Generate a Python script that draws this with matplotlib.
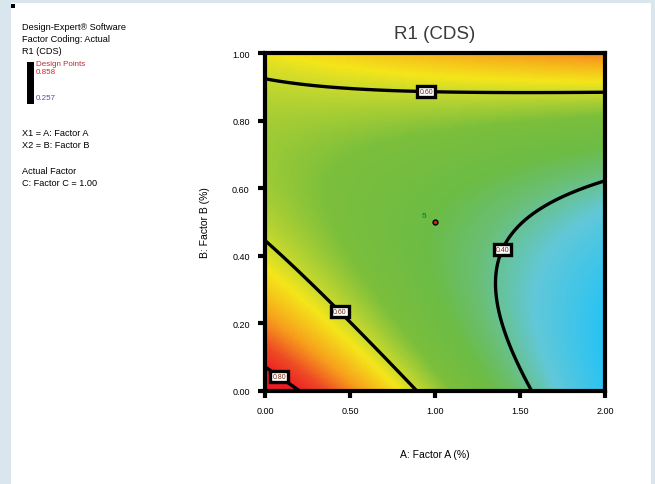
import numpy as np
import matplotlib.pyplot as plt
from matplotlib.colors import LinearSegmentedColormap
from matplotlib.patches import Rectangle

plt.rcParams['font.family'] = ['Liberation Sans', 'DejaVu Sans']

# factor ranges (actual units) and ticks
a_range = [0.0, 2.0]
b_range = [0.0, 1.0]
a_ticks = [0.0, 0.5, 1.0, 1.5, 2.0]
b_ticks = [0.0, 0.2, 0.4, 0.6, 0.8, 1.0]

# quadratic model in coded units: b0, A, B, AB, A^2, B^2
coef = [0.4656, -0.1246, 0.0536, 0.1694, -0.0047, 0.1568]
levels = [0.4, 0.6, 0.8]
r_min, r_max = 0.257, 0.858

# design point (center) and its count
center_pt = [1.0, 0.5]
center_n = '5'

# where the contour labels sit
label_pos = [(0.95, 0.92), (1.35, 0.43), (0.47, 0.25), (0.12, 0.07)]

A = np.linspace(a_range[0], a_range[1], 241)
B = np.linspace(b_range[0], b_range[1], 241)
AA, BB = np.meshgrid(A, B)
u = (AA - 1.0) / 1.0
v = (BB - 0.5) / 0.5
Z = (coef[0] + coef[1]*u + coef[2]*v + coef[3]*u*v
     + coef[4]*u**2 + coef[5]*v**2)

de_cmap = LinearSegmentedColormap.from_list('de', [
    (0.00, '#27c3f5'), (0.16, '#62c8d8'), (0.27, '#6abf74'),
    (0.35, '#6cbc45'), (0.47, '#7cbf3c'), (0.57, '#c8d92e'),
    (0.62, '#f4e61a'), (0.73, '#f7a11c'), (0.83, '#ee4a24'),
    (0.92, '#ec1c24'), (1.00, '#ec1c24')])

fig = plt.figure(figsize=(6.55, 4.85), dpi=100)
fig.patch.set_facecolor('#d9e6ee')
# white panel
fig.patches.append(Rectangle((11/655, 0), 640/655, 481/485, transform=fig.transFigure,
                             facecolor='white', edgecolor='none', zorder=-5))
fig.patches.append(Rectangle((11/655, 1-9/485), 4/655, 4/485, transform=fig.transFigure,
                             facecolor='black', edgecolor='none', zorder=-4))

ax = fig.add_axes([265/655, 1-392/485, 340/655, 338/485])
ax.imshow(Z, origin='lower', extent=[A[0], A[-1], B[0], B[-1]], aspect='auto',
          cmap=de_cmap, vmin=r_min, vmax=r_max, interpolation='bilinear')
cs = ax.contour(AA, BB, Z, levels=levels, colors='black', linewidths=2.4)
lbls = ax.clabel(cs, fmt='%.2f', fontsize=5, inline=False, manual=label_pos)
for t in lbls:
    t.set_rotation(0)
    t.set_color('#7a2a10')
    t.set_bbox(dict(facecolor='white', edgecolor='black', linewidth=2.4, pad=1.5))

ax.plot(center_pt[0], center_pt[1], 'o', color='#d42020', markersize=3.5,
        markeredgecolor='black', markeredgewidth=1)
ax.text(center_pt[0] - 0.05, center_pt[1] + 0.01, center_n, color='#1e8a3a',
        fontsize=6, ha='right', va='bottom', fontweight='bold')

ax.set_xlim(a_range)
ax.set_ylim(b_range)
ax.set_xticks(a_ticks)
ax.set_yticks(b_ticks)
ax.set_xticklabels(['%.2f' % t for t in a_ticks])
ax.set_yticklabels(['%.2f' % t for t in b_ticks])
ax.tick_params(length=5, width=3, labelsize=6.5, colors='black', pad=6)
for s in ax.spines.values():
    s.set_linewidth(3)

ax.set_title('R1 (CDS)', fontsize=13.5, color='#3a3a3a', pad=11)
ax.set_xlabel('A: Factor A (%)', fontsize=7.5, labelpad=24)
ax.set_ylabel('B: Factor B (%)', fontsize=7.5, labelpad=16)

# left legend block
def ftext(x, y, s, size=6.6, **kw):
    fig.text(x/655, 1-y/485, s, fontsize=size, va='center', ha='left', **kw)

ftext(22, 27, 'Design-Expert\u00ae Software')
ftext(22, 40, 'Factor Coding: Actual')
ftext(22, 52, 'R1 (CDS)')
fig.patches.append(Rectangle((27/655, 1-105/485), 7/655, 42/485, transform=fig.transFigure,
                             facecolor='black', edgecolor='none'))
ftext(36, 64, 'Design Points', size=5.8, color='#c0283a')
ftext(36, 73, '%.3f' % r_max, size=5.8, color='#e02020')
ftext(36, 99, '%.3f' % r_min, size=5.8, color='#5050b0')
ftext(22, 133, 'X1 = A: Factor A')
ftext(22, 145, 'X2 = B: Factor B')
ftext(22, 171, 'Actual Factor')
ftext(22, 184, 'C: Factor C = 1.00')

fig.savefig('out.png', dpi=100)
